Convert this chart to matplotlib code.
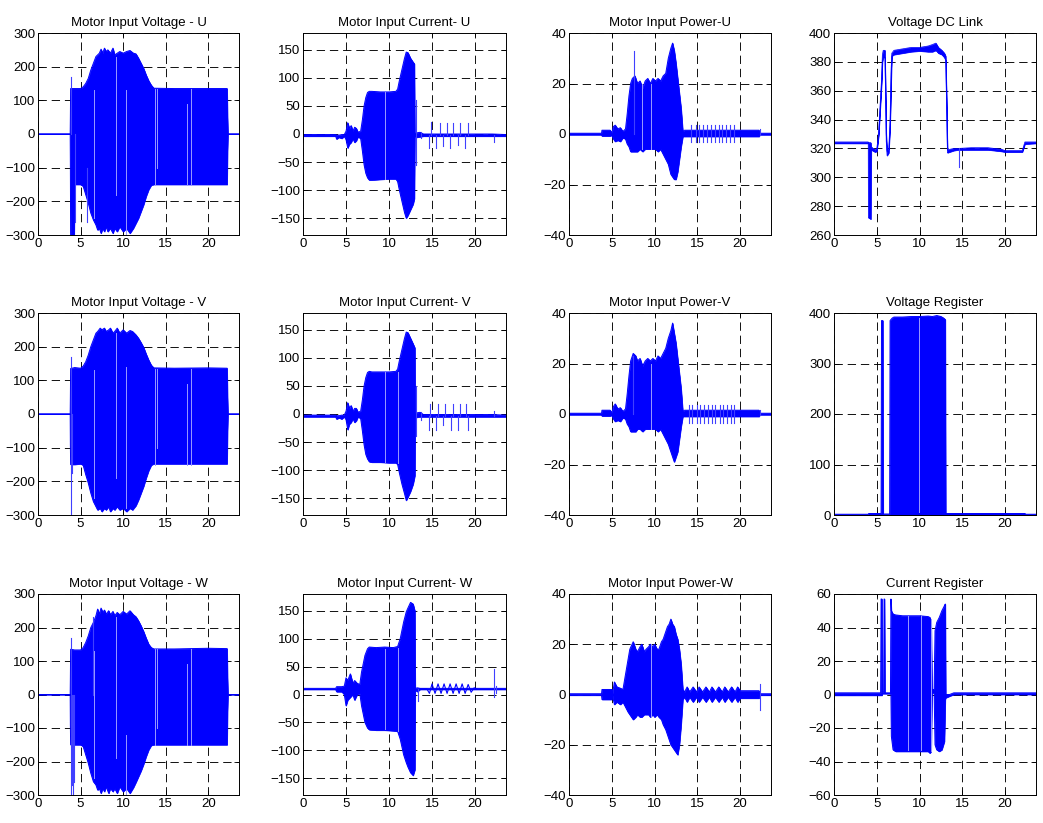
import numpy as np
import matplotlib
matplotlib.use('Agg')
from matplotlib import pyplot as plt

plt.rcParams['font.family'] = ['Liberation Sans', 'DejaVu Sans']
plt.rcParams['lines.scale_dashes'] = False

BLUE = '#0000ff'

# envelopes: columns are time [s], upper, lower
env_volt_u = np.array([
    (0, 0, 0), (3.78, 0, 0), (3.8, 50, -90), (3.83, 135, -300), (4.0, 135, -300),
    (4.25, 135, -300), (4.3, 135, -150), (5.0, 135, -150), (5.3, 140, -155),
    (5.6, 150, -180), (5.9, 165, -205), (6.2, 190, -235), (6.5, 210, -255),
    (6.8, 230, -270), (7.0, 235, -285), (7.2, 240, -280), (7.4, 252, -295),
    (7.6, 240, -280), (7.8, 255, -290), (8.0, 245, -275), (8.2, 250, -290),
    (8.5, 240, -280), (8.8, 255, -295), (9.0, 235, -280), (9.3, 240, -290),
    (9.6, 245, -275), (10.0, 240, -290), (10.4, 245, -280), (10.8, 248, -295),
    (11.2, 240, -280), (11.5, 238, -265), (11.8, 225, -250), (12.1, 210, -230),
    (12.4, 195, -210), (12.7, 175, -185), (13.0, 158, -165), (13.3, 145, -152),
    (13.6, 136, -150), (16.0, 135, -150), (20.0, 135, -150), (22.2, 135, -150),
    (22.25, 50, -50), (22.3, 0, 0), (23.6, 0, 0)])
spk_volt_u = [(3.9, 0, 170), (4.3, -260, 0), (5.8, -260, -100)]
gap_volt_u = [(6.6, -250, 130), (9.2, -180, 230), (10.3, -300, 130), (13.7, -150, 135),
              (14.0, -100, 135), (17.5, -150, 90), (18.0, -150, 135)]

env_volt_v = np.array([
    (0, 0, 0), (3.78, 0, 0), (3.8, 50, -90), (3.83, 135, -150), (4.3, 138, -150),
    (5.0, 136, -148), (5.3, 142, -152), (5.6, 155, -180), (5.9, 175, -205),
    (6.2, 200, -235), (6.5, 220, -260), (6.8, 240, -275), (7.0, 245, -285),
    (7.3, 255, -280), (7.5, 250, -290), (7.8, 255, -280), (8.0, 245, -285),
    (8.3, 250, -275), (8.5, 255, -290), (8.8, 240, -280), (9.0, 245, -285),
    (9.3, 255, -275), (9.6, 240, -285), (10.0, 250, -280), (10.4, 240, -290),
    (10.8, 248, -280), (11.1, 245, -285), (11.5, 235, -272), (11.8, 225, -255),
    (12.1, 212, -235), (12.4, 198, -215), (12.7, 178, -190), (13.0, 160, -168),
    (13.3, 145, -152), (13.6, 137, -148), (16.0, 136, -148), (20.0, 137, -148),
    (22.2, 136, -148), (22.25, 50, -50), (22.3, 0, 0), (23.6, 0, 0)])
spk_volt_v = [(3.9, 0, 170), (3.85, -300, 0), (4.0, -175, 0)]
gap_volt_v = [(6.6, -250, 130), (9.2, -190, 240), (10.3, -280, 140), (13.7, -150, 135),
              (14.0, -100, 135), (17.5, -150, 90), (18.0, -150, 135)]

env_volt_w = np.array([
    (0, 0, 0), (3.78, 0, 0), (3.8, 50, -90), (3.83, 135, -150), (4.3, 133, -150),
    (5.0, 133, -150), (5.3, 140, -155), (5.6, 155, -180), (5.9, 175, -205),
    (6.2, 200, -235), (6.5, 215, -260), (6.8, 235, -270), (7.0, 255, -285),
    (7.2, 240, -280), (7.4, 258, -295), (7.6, 245, -280), (7.8, 252, -290),
    (8.0, 240, -275), (8.3, 250, -295), (8.5, 238, -280), (8.8, 248, -290),
    (9.0, 235, -280), (9.3, 245, -295), (9.6, 238, -275), (10.0, 248, -290),
    (10.4, 240, -280), (10.8, 250, -295), (11.2, 238, -278), (11.5, 232, -262),
    (11.8, 220, -245), (12.1, 205, -228), (12.4, 188, -208), (12.7, 168, -185),
    (13.0, 150, -165), (13.3, 140, -152), (13.6, 136, -150), (16.0, 136, -150),
    (20.0, 138, -150), (22.2, 137, -150), (22.25, 50, -50), (22.3, 0, 0), (23.6, 0, 0)])
spk_volt_w = [(3.9, 0, 170), (3.85, -300, 0), (4.0, -270, 0), (4.1, -300, 0),
              (4.2, -260, 0), (6.5, 0, 230)]
gap_volt_w = [(6.6, -250, 130), (9.2, -190, 230), (10.3, -300, -120), (13.7, -150, 135),
              (14.0, -100, 135), (17.5, -150, 90), (18.0, -150, 135)]

env_curr_u = np.array([
    (0, -1, -4), (3.8, -1, -4), (3.9, -2, -9), (4.2, -2, -6), (4.5, -1, -8),
    (4.8, -1, -4), (5.0, 5, -10), (5.2, 20, -25), (5.4, 10, -18), (5.6, 15, -15),
    (5.8, 5, -8), (6.0, 12, -15), (6.2, 10, -12), (6.4, 3, -5), (6.7, 5, -8),
    (6.9, 25, -30), (7.1, 50, -55), (7.3, 65, -70), (7.5, 74, -78), (7.7, 76, -82),
    (8.0, 76, -82), (9.0, 75, -81), (10.0, 75, -80), (10.8, 76, -80), (11.0, 80, -85),
    (11.2, 95, -100), (11.5, 115, -120), (11.8, 135, -140), (12.0, 146, -150),
    (12.2, 145, -145), (12.5, 135, -135), (12.8, 128, -125), (12.95, 125, -115),
    (13.0, 0, -3), (13.2, 2, -6), (13.6, 3, -5), (14.0, 0, -4), (22.0, 0, -4),
    (23.6, -1, -4)])
spk_curr_u = [(13.15, -55, 60), (13.7, -8, 3), (14.9, -2, 22), (15.9, -2, 20),
              (16.7, -2, 20), (17.4, -2, 20), (18.3, -2, 20), (19.2, -2, 20),
              (14.6, -25, -2), (15.5, -25, -2), (16.3, -22, -2), (17.1, -25, -2),
              (18.0, -20, -2), (18.8, -25, -2), (22.2, -15, -2)]
gap_curr_u = [(9.5, -80, 75)]

env_curr_v = np.array([
    (0, -2, -5), (3.8, -2, -5), (3.9, -3, -9), (4.2, -3, -7), (4.5, -2, -9),
    (4.8, -2, -5), (5.0, 5, -10), (5.2, 20, -28), (5.4, 10, -18), (5.6, 15, -15),
    (5.8, 5, -8), (6.0, 10, -15), (6.2, 10, -12), (6.4, 3, -5), (6.7, 5, -8),
    (6.9, 25, -30), (7.1, 50, -55), (7.3, 65, -72), (7.5, 74, -80), (7.7, 76, -85),
    (8.0, 75, -86), (9.0, 75, -86), (10.0, 75, -87), (10.8, 76, -87), (11.0, 80, -90),
    (11.2, 95, -105), (11.5, 115, -125), (11.8, 135, -142), (12.0, 146, -154),
    (12.2, 145, -148), (12.5, 135, -138), (12.8, 125, -125), (13.0, 118, -110),
    (13.05, -1, -4), (13.2, 2, -6), (13.6, 3, -5), (14.0, -1, -5), (22.0, -1, -5),
    (23.6, -2, -5)])
spk_curr_v = [(13.15, -40, 50), (13.7, -10, 3), (14.8, -3, 18), (15.7, -3, 18),
              (16.5, -3, 18), (17.4, -3, 18), (18.3, -3, 18), (19.0, -3, 18),
              (14.6, -28, -3), (15.5, -28, -3), (16.3, -20, -3), (17.2, -28, -3),
              (18.0, -28, -3), (19.2, -28, -3), (22.2, -3, 5)]
gap_curr_v = [(9.5, -85, 75), (11.1, -87, 75)]

env_curr_w = np.array([
    (0, 11, 9), (3.8, 11, 9), (3.9, 14, 5), (4.5, 14, 5), (4.8, 15, 0), (5.0, 30, -20),
    (5.2, 25, -10), (5.5, 37, -5), (5.8, 20, 0), (6.0, 25, -10), (6.3, 20, 0),
    (6.6, 18, 2), (6.8, 40, -20), (7.0, 55, -35), (7.2, 70, -50), (7.5, 82, -60),
    (7.7, 85, -63), (8.5, 84, -64), (9.5, 85, -64), (10.5, 84, -65), (11.0, 86, -66),
    (11.3, 100, -80), (11.7, 130, -108), (12.0, 148, -122), (12.2, 155, -130),
    (12.5, 165, -140), (12.8, 162, -145), (13.0, 150, -135), (13.05, 11, 8),
    (13.3, 12, 5), (13.6, 11, 9), (23.6, 11, 9)])
wave_curr_w_t = [13.6, 14.4, 14.7, 15.0, 15.35, 15.7, 16.05, 16.4, 16.75, 17.1, 17.45,
                 17.8, 18.15, 18.5, 18.85, 19.2, 19.55, 19.9, 20.2]
wave_curr_w_y = [10, 10, 2, 19, 2, 19, 2, 19, 2, 19, 2, 19, 2, 19, 2, 18, 4, 12, 10]
spk_curr_w = [(13.4, -12, 10), (22.2, -5, 45), (22.4, 2, 15)]
gap_curr_w = [(9.5, -62, 82), (11.0, -65, 84)]

env_pow_u = np.array([
    (0, 0.3, -0.3), (3.8, 0.3, -0.3), (3.85, 1.5, -0.8), (4.8, 1.5, -0.8),
    (5.0, 0.5, -0.5), (5.2, 3, -2), (5.4, 3.5, -3), (5.7, 2, -2.5), (6.0, 2.5, -3),
    (6.3, 1, -1.5), (6.6, 2, -2), (6.8, 8, -4), (7.0, 15, -5), (7.2, 20, -7),
    (7.4, 22, -7), (7.7, 23, -7), (8.0, 20, -7), (8.3, 21, -6), (8.6, 18, -7),
    (8.9, 21, -6), (9.2, 22, -6), (9.5, 20, -6), (9.8, 22, -6), (10.1, 21, -6),
    (10.4, 22, -7), (10.7, 21, -6), (11.0, 23, -8), (11.3, 24, -10), (11.6, 30, -12),
    (11.9, 34, -16), (12.1, 36, -17), (12.3, 33, -18), (12.5, 28, -18),
    (12.7, 22, -15), (12.9, 16, -10), (13.1, 10, -5), (13.3, 1, -1), (13.5, 1.5, -1),
    (22.2, 1.5, -1), (22.3, 0.3, -0.3), (23.6, 0.3, -0.3)])
spk_pow_u = [(7.6, 0, 33), (22.3, -0.5, 2)] + \
    [(t, -3, 3.5) for t in [14.3, 14.8, 15.2, 15.7, 16.1, 16.6, 17.0, 17.5,
                            17.9, 18.4, 18.8, 19.3]]
gap_pow_u = [(8.5, -6, 20), (9.6, -6, 20)]

env_pow_v = np.array([
    (0, 0.3, -0.3), (3.8, 0.3, -0.3), (3.85, 1.5, -0.8), (4.8, 1.5, -0.8),
    (5.0, 0.5, -0.5), (5.2, 3, -2), (5.4, 4, -3), (5.7, 2, -2.5), (6.0, 2.5, -3),
    (6.3, 1, -1.5), (6.6, 2, -2), (6.8, 8, -4), (7.0, 15, -5), (7.2, 21, -7),
    (7.5, 24, -7), (7.8, 23, -7), (8.0, 21, -6), (8.3, 22, -6), (8.6, 19, -7),
    (8.9, 21, -6), (9.2, 22, -6), (9.5, 21, -6), (9.8, 22, -6), (10.1, 21, -6),
    (10.4, 23, -7), (10.7, 22, -6), (11.0, 24, -8), (11.3, 26, -10), (11.6, 30, -12),
    (11.9, 33, -15), (12.1, 36, -17), (12.3, 32, -19), (12.5, 28, -17),
    (12.7, 22, -15), (12.9, 16, -10), (13.1, 10, -5), (13.3, 1, -1), (13.5, 1.5, -1),
    (22.2, 1.5, -1), (22.3, 0.3, -0.3), (23.6, 0.3, -0.3)])
spk_pow_v = [(7.5, 0, 23), (22.3, -0.5, 1.5)] + \
    [(t, -3.5, 3.5) for t in [14.0, 14.4, 14.9, 15.3, 15.8, 16.2, 16.7, 17.1,
                              17.6, 18.0, 18.5, 18.9, 19.3]]
gap_pow_v = [(9.6, -6, 20)]

env_pow_w = np.array([
    (0, 0.3, -0.3), (3.8, 0.3, -0.3), (3.85, 2, -2), (5.0, 2, -2), (5.1, 0.5, -0.5),
    (5.3, 5, -4), (5.6, 3, -3), (6.0, 2.5, -4), (6.3, 2, -3), (6.6, 8, -5),
    (6.9, 14, -7), (7.1, 18, -8), (7.5, 21, -10), (7.8, 18, -9), (8.0, 17, -8),
    (8.3, 19, -9), (8.5, 20, -9), (8.8, 17, -8), (9.0, 18, -8), (9.3, 19, -8),
    (9.5, 20, -9), (9.8, 19, -8), (10.0, 20, -9), (10.3, 18, -8), (10.5, 18, -9),
    (10.8, 21, -10), (11.0, 22, -12), (11.3, 25, -14), (11.5, 27, -16), (11.7, 28, -18),
    (11.9, 30, -20), (12.1, 28, -21), (12.3, 27, -22), (12.5, 24, -23), (12.7, 22, -24),
    (12.9, 18, -20), (13.1, 12, -12), (13.3, 2, -2), (13.5, 1, -1), (13.8, 3, -3),
    (14.1, 1, -1), (14.5, 3, -3), (14.9, 1, -1), (15.2, 3, -3), (15.6, 1, -1),
    (16.0, 3, -3), (16.4, 1, -1), (16.7, 3, -3), (17.1, 1, -1), (17.5, 3, -3),
    (17.9, 1, -1), (18.2, 3, -3), (18.6, 1, -1), (19.0, 3, -3), (19.4, 1, -1),
    (19.7, 3, -3), (20.0, 1.5, -1.5), (22.2, 1.5, -1.5), (22.25, 0.3, -0.3),
    (23.6, 0.3, -0.3)])
spk_pow_w = [(22.3, -6, 4)]
gap_pow_w = [(9.6, -9, 20)]

env_dc = np.array([
    (0, 324.5, 323.5), (4.0, 324.5, 323.5), (4.02, 324, 272), (4.3, 324, 271),
    (4.35, 321, 319), (4.8, 319, 317.5), (5.0, 320, 318), (5.2, 330, 328),
    (5.4, 352, 348), (5.55, 368, 364), (5.65, 385, 380), (5.75, 388, 383),
    (5.95, 388, 383), (6.0, 368, 364), (6.1, 330, 325), (6.2, 318, 315),
    (6.4, 320, 317), (6.55, 340, 335), (6.65, 372, 360), (6.75, 386, 384),
    (7.0, 388, 385), (8.0, 389, 386), (9.0, 390, 387), (10.0, 390, 387.5),
    (11.0, 391, 387), (11.5, 392, 387), (11.9, 393, 388), (12.2, 390, 386),
    (12.6, 388, 385), (12.9, 386, 383), (13.05, 384, 381), (13.15, 355, 350),
    (13.25, 319, 317), (14.0, 320, 318.5), (14.5, 320, 319), (16.0, 320.5, 319),
    (18.0, 320.5, 319), (19.5, 319.5, 318), (20.0, 318.5, 317.5), (22.0, 318.5, 317.5),
    (22.3, 324.5, 323), (23.6, 324.5, 323.5)])
spk_dc = [(14.6, 307, 320)]
gap_dc = []

env_vreg = np.array([
    (0, 1.5, 0), (4.0, 1.5, 0), (4.05, 3, 0), (5.5, 3, 0), (5.55, 385, 0),
    (5.7, 385, 0), (5.75, 2, 0), (6.5, 2, 0), (6.55, 385, 0), (6.8, 390, 0),
    (7.0, 392, 0), (8.0, 392, 0), (9.0, 393, 0), (10.0, 393, 0), (11.0, 394, 0),
    (11.5, 393, 0), (12.0, 395, 0), (12.5, 393, 0), (12.8, 390, 0), (13.0, 387, 0),
    (13.05, 3, 0), (22.3, 3, 0), (22.4, 1.5, 0), (23.6, 1.5, 0)])
spk_vreg = []
gap_vreg = [(9.9, 5, 390)]

env_ireg = np.array([
    (0, 1, -0.5), (5.45, 1, -0.5), (5.5, 57, -0.5), (5.6, 57, -0.5), (5.65, 1.5, 0.5),
    (5.8, 1.5, 0.5), (5.85, 57, 0.5), (5.9, 57, 0.5), (5.95, 1, 0.5), (6.6, 1, 0.5),
    (6.65, 57, 0), (6.7, 50, -25), (6.9, 48, -33), (7.2, 47.5, -34), (8.0, 47, -34),
    (9.0, 47, -34), (10.0, 47, -34), (11.0, 46.5, -34), (11.2, 46, -35),
    (11.35, 44, -34), (11.45, 3, 1), (11.7, 3, 1), (11.8, 38, -30), (12.0, 43, -33),
    (12.3, 46, -34), (12.6, 50, -33), (12.9, 53, -28), (13.0, 54, -3), (13.05, 0, -2),
    (13.5, 0, -1), (14.0, 1, 0), (23.6, 1, 0)])
spk_ireg = []
gap_ireg = [(8.7, -33, 47), (10.2, -33, 47), (11.3, -34, 45)]

titles = [
    ['Motor Input Voltage - U', 'Motor Input Current- U', 'Motor Input Power-U', 'Voltage DC Link'],
    ['Motor Input Voltage - V', 'Motor Input Current- V', 'Motor Input Power-V', 'Voltage Register'],
    ['Motor Input Voltage - W', 'Motor Input Current- W', 'Motor Input Power-W', 'Current Register'],
]
envs = [
    [env_volt_u, env_curr_u, env_pow_u, env_dc],
    [env_volt_v, env_curr_v, env_pow_v, env_vreg],
    [env_volt_w, env_curr_w, env_pow_w, env_ireg],
]
spikes = [
    [spk_volt_u, spk_curr_u, spk_pow_u, spk_dc],
    [spk_volt_v, spk_curr_v, spk_pow_v, spk_vreg],
    [spk_volt_w, spk_curr_w, spk_pow_w, spk_ireg],
]
gaps = [
    [gap_volt_u, gap_curr_u, gap_pow_u, gap_dc],
    [gap_volt_v, gap_curr_v, gap_pow_v, gap_vreg],
    [gap_volt_w, gap_curr_w, gap_pow_w, gap_ireg],
]
ylims = [
    [(-300, 300), (-180, 180), (-40, 40), (260, 400)],
    [(-300, 300), (-180, 180), (-40, 40), (0, 400)],
    [(-300, 300), (-180, 180), (-40, 40), (-60, 60)],
]
yticks = [
    [np.arange(-300, 301, 100), np.arange(-150, 151, 50), np.arange(-40, 41, 20), np.arange(260, 401, 20)],
    [np.arange(-300, 301, 100), np.arange(-150, 151, 50), np.arange(-40, 41, 20), np.arange(0, 401, 100)],
    [np.arange(-300, 301, 100), np.arange(-150, 151, 50), np.arange(-40, 41, 20), np.arange(-60, 61, 20)],
]
xticks = [0, 5, 10, 15, 20]

# axes boxes in pixels (left, right) and (top, bottom)
W, H = 1043, 823
col_px = [(38, 239), (303, 506), (569, 771), (834, 1036)]
row_px = [(33, 235), (313, 515), (594, 795)]

fig = plt.figure(figsize=(W / 100, H / 100), dpi=100)

for r in range(3):
    for c in range(4):
        x0, x1 = col_px[c]
        y0, y1 = row_px[r]
        ax = fig.add_axes([x0 / W, 1 - y1 / H, (x1 - x0) / W, (y1 - y0) / H])
        env = envs[r][c]
        t, hi, lo = env[:, 0], env[:, 1], env[:, 2]
        lw = 0.5 if (r, c) == (0, 3) else 0.7
        ax.fill_between(t, lo, hi, color=BLUE, linewidth=0.5, zorder=2)
        ax.plot(t, hi, color=BLUE, lw=lw, zorder=2)
        ax.plot(t, lo, color=BLUE, lw=lw, zorder=2)
        if (r, c) == (2, 1):
            ax.plot(wave_curr_w_t, wave_curr_w_y, color=BLUE, lw=0.8, zorder=2)
        for (ts, ya, yb) in spikes[r][c]:
            ax.plot([ts, ts], [ya, yb], color='#4040ff', lw=0.8, zorder=2)
        for (tg, ya, yb) in gaps[r][c]:
            ax.plot([tg, tg], [ya, yb], color='#9a9aff', lw=0.7, zorder=3)

        ax.set_xlim(0, 23.6)
        ax.set_ylim(*ylims[r][c])
        ax.set_xticks(xticks)
        ax.set_yticks(yticks[r][c])
        ax.grid(True, color='k', linestyle=(0, (6, 3.5)), linewidth=0.65, zorder=1)
        ax.set_axisbelow(True)
        ax.tick_params(direction='in', top=True, right=True, length=3.5, width=0.6,
                       labelsize=9.5, pad=2, colors='k')
        for s in ax.spines.values():
            s.set_linewidth(0.7)
        ax.set_title(titles[r][c], fontsize=9.5, pad=5)

fig.savefig('out.png', dpi=100)
